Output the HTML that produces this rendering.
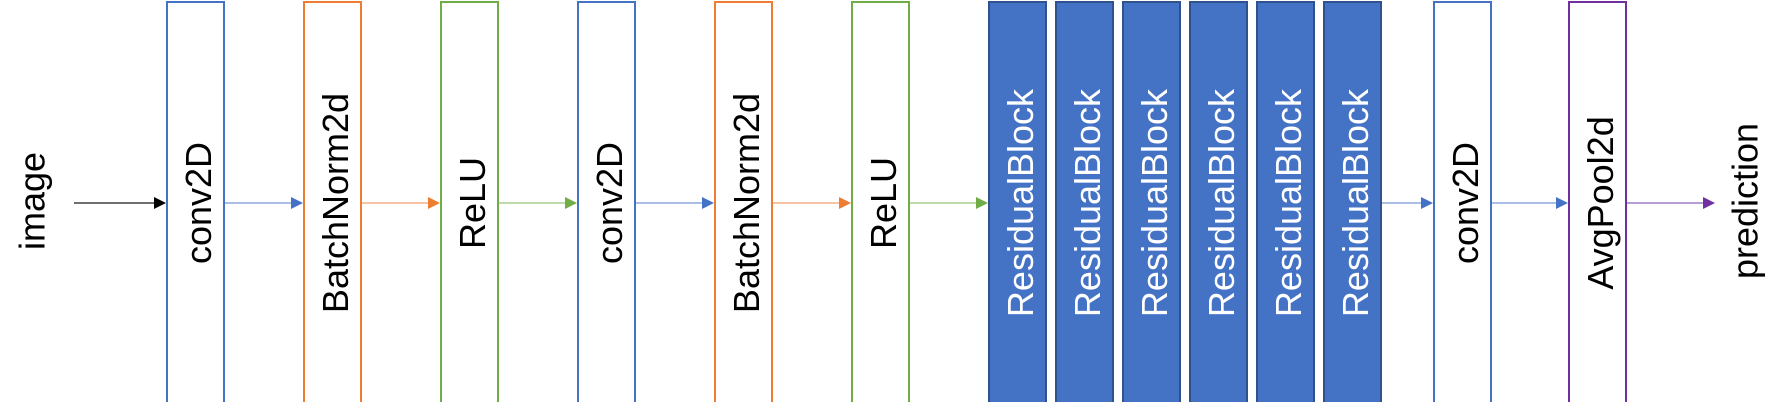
<!DOCTYPE html>
<html><head><meta charset="utf-8"><style>
html,body{margin:0;padding:0;background:#fff;}
svg{display:block;font-family:"Liberation Sans",sans-serif;}
</style></head><body>
<svg id="d" width="1781" height="402" xmlns="http://www.w3.org/2000/svg">
<text x="32" y="201" font-size="36" fill="#000" text-anchor="middle" dominant-baseline="central" transform="rotate(-90 32 201)">image</text>
<text x="1745" y="201" font-size="36" fill="#000" text-anchor="middle" dominant-baseline="central" transform="rotate(-90 1745 201)">prediction</text>
</svg>
<script>
const labels=["conv2D","BatchNorm2d","ReLU","conv2D","BatchNorm2d","ReLU","ResidualBlock","ResidualBlock","ResidualBlock","ResidualBlock","ResidualBlock","ResidualBlock","conv2D","AvgPool2d"];
const lefts=[166,303,440,577,714,851,988,1055,1122,1189,1256,1323,1433,1568];
const kinds=["conv","bn","relu","conv","bn","relu","res","res","res","res","res","res","conv","pool"];
const col={conv:"#4472c4",bn:"#ed7d31",relu:"#70ad47",res:"#4472c4",pool:"#7030a0"};
const lineCol={conv:"#8faadc",bn:"#f4b183",relu:"#a9d18e",res:"#8faadc",pool:"#a07cc5"};
const headCol={conv:"#4472c4",bn:"#ed7d31",relu:"#70ad47",res:"#4472c4",pool:"#7030a0"};
const W=59, AY=203;
const svg=document.getElementById('d');
const NS="http://www.w3.org/2000/svg";
function arrow(x1,x2,lc,hc,name){
  const l=document.createElementNS(NS,'line');
  l.setAttribute('x1',x1);l.setAttribute('x2',x2-11);l.setAttribute('y1',AY);l.setAttribute('y2',AY);
  l.setAttribute('stroke',lc);l.setAttribute('stroke-width','1.5');
  
  
  svg.appendChild(l);
  const p=document.createElementNS(NS,'path');
  p.setAttribute('d',`M${x2-12},${AY-6} L${x2},${AY} L${x2-12},${AY+6} z`);
  p.setAttribute('fill',hc);
  
  
  svg.appendChild(p);
}
arrow(74,lefts[0],"#404040","#000","arrow-image-to-conv2d");
labels.forEach((t,i)=>{
  const k=kinds[i],x=lefts[i];
  const r=document.createElementNS(NS,'rect');
  r.setAttribute('x',x+1);r.setAttribute('y',2);r.setAttribute('width',W-2);r.setAttribute('height',420);
  if(k==='res'){r.setAttribute('fill','#4472c4');r.setAttribute('stroke','#2f528f');}
  else{r.setAttribute('fill','#fff');r.setAttribute('stroke',col[k]);}
  r.setAttribute('stroke-width','2');
  
  
  svg.appendChild(r);
  const cx=x+W/2+3;
  const tx=document.createElementNS(NS,'text');
  tx.setAttribute('x',cx);tx.setAttribute('y',AY);
  tx.setAttribute('font-size','36');
  tx.setAttribute('text-anchor','middle');
  tx.setAttribute('dominant-baseline','central');
  tx.setAttribute('fill',k==='res'?'#fff':'#000');
  tx.setAttribute('transform',`rotate(-90 ${cx} ${AY})`);
  tx.textContent=t;
  
  
  svg.appendChild(tx);
  const next=i<labels.length-1?lefts[i+1]:1715;
  if(i<labels.length-1&&next-(x+W)<20)return;
  arrow(x+W,next,lineCol[k],headCol[k],'arrow-'+(i+1));
});
</script>
</body></html>
